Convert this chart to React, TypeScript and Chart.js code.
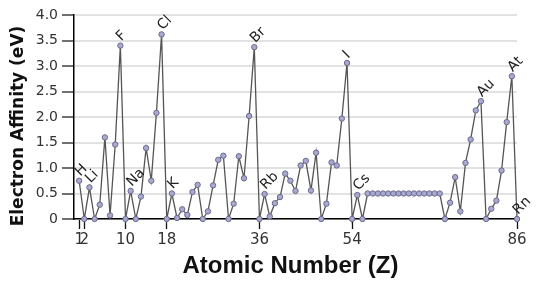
import React, { useEffect, useRef } from "react";
import { Chart, registerables } from "chart.js";

Chart.register(...registerables);

const atomicNumbers = [
  1, 2, 3, 4, 5, 6, 7, 8, 9, 10, 11, 12, 13, 14, 15, 16, 17, 18, 19, 20,
  21, 22, 23, 24, 25, 26, 27, 28, 29, 30, 31, 32, 33, 34, 35, 36, 37, 38, 39, 40,
  41, 42, 43, 44, 45, 46, 47, 48, 49, 50, 51, 52, 53, 54, 55, 56, 57, 58, 59, 60,
  61, 62, 63, 64, 65, 66, 67, 68, 69, 70, 71, 72, 73, 74, 75, 76, 77, 78, 79, 80,
  81, 82, 83, 84, 85, 86,
];

const electronAffinity = [
  0.75, 0, 0.62, 0, 0.28, 1.6, 0.07, 1.46, 3.4, 0,
  0.55, 0, 0.44, 1.39, 0.75, 2.08, 3.62, 0,
  0.5, 0.02, 0.19, 0.08, 0.53, 0.67, 0, 0.15, 0.66, 1.16, 1.24, 0, 0.3, 1.23, 0.8, 2.02, 3.37, 0,
  0.49, 0.05, 0.31, 0.43, 0.89, 0.75, 0.55, 1.05, 1.14, 0.56, 1.3, 0, 0.3, 1.11, 1.05, 1.97, 3.06, 0,
  0.47, 0, 0.5, 0.5, 0.5, 0.5, 0.5, 0.5, 0.5, 0.5, 0.5, 0.5, 0.5, 0.5, 0.5, 0.5, 0.5,
  0, 0.32, 0.82, 0.15, 1.1, 1.56, 2.13, 2.31, 0, 0.2, 0.36, 0.95, 1.9, 2.8, 0,
];

const labelSymbols = ["H", "Li", "F", "Na", "Cl", "K", "Br", "Rb", "I", "Cs", "Au", "At", "Rn"];
const labelZ = [1, 3, 9, 11, 17, 19, 35, 37, 53, 55, 79, 85, 86];

const xTickValues = [1, 2, 10, 18, 36, 54, 86];

const xTitle = "Atomic Number (Z)";
const yTitle = "Electron Affinity (eV)";

const elementLabels = {
  id: "elementLabels",
  afterDatasetsDraw(chart: any) {
    const meta = chart.getDatasetMeta(0);
    const ctx = chart.ctx;
    ctx.save();
    ctx.font = '14px "DejaVu Sans"';
    ctx.fillStyle = "#222";
    ctx.textAlign = "left";
    ctx.textBaseline = "alphabetic";
    labelZ.forEach((z, i) => {
      const idx = atomicNumbers.indexOf(z);
      const el = meta.data[idx];
      if (!el) return;
      ctx.save();
      ctx.translate(el.x + 1, el.y - 4);
      ctx.rotate(-Math.PI / 4);
      ctx.fillText(labelSymbols[i], 0, 0);
      ctx.restore();
    });
    ctx.restore();
  },
};

const axisTitles = {
  id: "axisTitles",
  afterDraw(chart: any) {
    const ctx = chart.ctx;
    const area = chart.chartArea;
    ctx.save();
    ctx.fillStyle = "#111";
    ctx.textBaseline = "alphabetic";
    ctx.textAlign = "center";
    // x title
    ctx.font = 'bold 24px "Liberation Sans"';
    ctx.fillText(xTitle, (area.left + area.right) / 2 - 5, 273);
    // y title
    ctx.font = 'bold 17px "DejaVu Sans"';
    ctx.translate(22.7, (area.top + area.bottom) / 2 + 9);
    ctx.rotate(-Math.PI / 2);
    ctx.fillText(yTitle, 0, 0);
    ctx.restore();
  },
};

export default function App() {
  const ref = useRef<HTMLCanvasElement>(null);

  useEffect(() => {
    if (!ref.current) return;
    const chart = new Chart(ref.current, {
      type: "line",
      data: {
        datasets: [
          {
            data: atomicNumbers.map((z, i) => ({ x: z, y: electronAffinity[i] })),
            borderColor: "#555",
            borderWidth: 1.3,
            pointRadius: 2.7,
            pointBackgroundColor: "#a9a8d2",
            pointBorderColor: "#6a6a8a",
            pointBorderWidth: 1,
            tension: 0,
            clip: false as any,
          },
        ],
      },
      options: {
        animation: false,
        responsive: false,
        maintainAspectRatio: false,
        layout: { padding: { top: 15, right: 26, left: 0, bottom: 0 } },
        plugins: { legend: { display: false }, tooltip: { enabled: false } },
        scales: {
          x: {
            type: "linear",
            min: 0,
            max: 86,
            afterBuildTicks: (scale: any) => {
              scale.ticks = xTickValues.map((v) => ({ value: v }));
            },
            afterFit: (scale: any) => {
              scale.height = 66;
            },
            ticks: {
              autoSkip: false,
              maxRotation: 0,
              font: { family: "DejaVu Sans", size: 15 },
              color: "#333",
              padding: 2,
              callback: (v: any) => String(v),
            },
            grid: {
              drawOnChartArea: false,
              drawTicks: true,
              tickLength: 10,
              tickColor: "#111",
              tickWidth: 1.3,
            },
            border: { display: true, color: "#000", width: 1.5 },
          },
          y: {
            min: 0,
            max: 4,
            afterFit: (scale: any) => {
              scale.width = 74;
            },
            ticks: {
              stepSize: 0.5,
              font: { family: "DejaVu Sans", size: 14 },
              color: "#333",
              padding: 4,
              callback: (v: any) => (Number(v) === 0 ? "0" : Number(v).toFixed(1)),
            },
            grid: {
              color: "#e2e2e2",
              lineWidth: 2,
              drawTicks: true,
              tickLength: 12,
              tickColor: "#222",
              tickWidth: 1.3,
            },
            border: { display: true, color: "#000", width: 1.5 },
          },
        },
      },
      plugins: [elementLabels, axisTitles],
    });
    return () => chart.destroy();
  }, []);

  return (
    <div style={{ position: "fixed", left: 0, top: 0, width: 543, height: 285, background: "#fff" }}>
      <canvas ref={ref} width={543} height={285} style={{ width: 543, height: 285 }} />
    </div>
  );
}
